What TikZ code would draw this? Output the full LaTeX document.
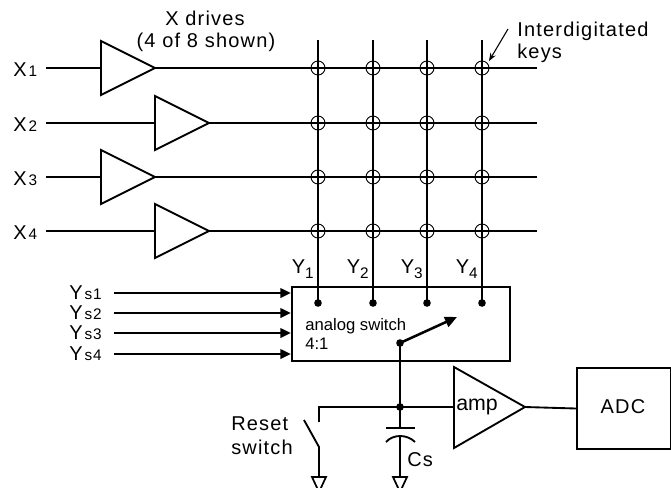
\documentclass[tikz,border=0pt]{standalone}
\usepackage{fontspec}
\setmainfont{Liberation Sans}[LetterSpace=6]
\newfontfamily\plainsans{Liberation Sans}
\usetikzlibrary{arrows.meta}
\newcommand{\mainsz}{\fontsize{15}{17}\selectfont}
\newcommand{\subsz}{\fontsize{11.5}{13}\selectfont}
\tikzset{
  wire/.style={line width=1.9pt},
  thinwire/.style={line width=1.4pt},
  key/.style={line width=0.7pt},
  lbl/.style={inner sep=0pt, font=\mainsz},
  gnd/.style={line width=1.3pt},
}
\begin{document}
\begin{tikzpicture}[x=0.75pt,y=-0.75pt]
\useasboundingbox (0,0) rectangle (671,487);

% X drive lines
\foreach \i/\y/\bx in {1/68/101, 2/123/155, 3/177/101, 4/231/155} {
  \node[lbl, anchor=base west] (xl\i) at (13,\y+8) {X\hspace{1.5pt}{\subsz\i}};
  \coordinate (xin\i) at (46,\y);
  \coordinate (bl\i) at (\bx,\y);
  \coordinate (bt\i) at (\bx+54,\y);
  \coordinate (xe\i) at (537,\y);
  \draw[wire] (xin\i) -- (bl\i);
  \draw[thinwire, line join=miter] (\bx,\y-27) -- (bt\i) -- (\bx,\y+27) -- cycle;
  \draw[wire] (bt\i) -- (xe\i);
}

\node[lbl, anchor=base] (xd) at (205,25) {X drives};
\node[lbl, anchor=base] (xd2) at (206,47) {(4 of 8 shown)};

% Y columns
\foreach \j/\x in {1/318,2/373,3/427,4/482} {
  \coordinate (ct\j) at (\x,40);
  \coordinate (cd\j) at (\x,303);
  \draw[wire] (ct\j) -- (cd\j);
  \foreach \y in {68,123,177,231} {
    \draw[key] (\x,\y) circle (7);
  }
  \fill (cd\j) circle (3.8);
  \node[lbl, anchor=base east] (yl\j) at (\x-4,273) {Y\raisebox{-4pt}{\subsz\j}};
}

% Interdigitated keys
\node[lbl, anchor=base west] (ik1) at (517,36) {Interdigitated};
\node[lbl, anchor=base west] (ik2) at (517,58) {keys};
\coordinate (ika) at (508,29);
\coordinate (ikb) at (489,61);
\draw[line width=0.8pt, -{Stealth[length=6pt,width=4.5pt]}] (ika) -- (ikb);

% analog switch box
\node[draw, line width=1.7pt, minimum width=163.5pt, minimum height=55.5pt, anchor=north west, inner sep=0pt] (sw) at (291,286) {};
\node[inner sep=0pt, anchor=base west, font=\plainsans\fontsize{12.5}{14}\selectfont] (swt1) at (305,330) {analog switch};
\node[inner sep=0pt, anchor=base west, font=\plainsans\fontsize{12.5}{14}\selectfont] (swt2) at (305,349) {4:1};
\coordinate (piv) at (400,343);
\coordinate (arw) at (457,317);
\draw[wire, -{Triangle[length=9pt,width=8pt]}] (piv) -- (arw);
\fill (piv) circle (3.8);

% Ys inputs
\foreach \k/\y in {1/293,2/313,3/333,4/354} {
  \node[lbl, anchor=base east] (ys\k) at (102,\y+6) {Y\hspace{1.5pt}{\subsz s\k}};
  \coordinate (ysa\k) at (114,\y);
  \coordinate (ysb\k) at (291,\y);
  \draw[wire, -{Triangle[length=8pt,width=7pt]}] (ysa\k) -- (ysb\k);
}

% output network
\coordinate (J) at (400,407);
\coordinate (ampin) at (454,407);
\coordinate (ampout) at (525,407);
\coordinate (rtop) at (319,422);
\draw[wire] (piv) -- (J);
\draw[thinwire] (rtop) |- (J) -- (ampin);
\fill (J) circle (3.8);

% reset switch
\coordinate (bladeA) at (304,420);
\coordinate (bladeB) at (319,447);
\coordinate (g1) at (319,477);
\draw[thinwire] (bladeA) -- (bladeB) -- (g1);
\draw[gnd, line join=miter] (312,477) -- (326,477) -- (319,492) -- cycle;
\node[lbl, anchor=base west] (rs1) at (231,430) {Reset};
\node[lbl, anchor=base west] (rs2) at (231,454) {switch};

% capacitor
\coordinate (cpt) at (400,428);
\coordinate (cpb) at (400,436);
\coordinate (g2) at (400,477);
\draw[thinwire] (J) -- (cpt);
\draw[thinwire] (386,428) -- (415,428);
\draw[thinwire] (386,442) .. controls (393,434) and (407,434) .. (415,442);
\draw[thinwire] (cpb) -- (g2);
\draw[gnd, line join=miter] (393,477) -- (407,477) -- (400,492) -- cycle;
\node[lbl, anchor=base west] (cs) at (407,466) {Cs};

% amplifier
\draw[thinwire, line join=miter] (454,367) -- (ampout) -- (454,448) -- cycle;
\node[inner sep=0pt, anchor=base west, font=\plainsans\fontsize{16}{18}\selectfont] (amp) at (456,410) {amp};

% ADC
\node[draw, line width=1.5pt, minimum width=70.5pt, minimum height=60.75pt, anchor=north west, inner sep=0pt] (adc) at (576,367) {};
\node[lbl] (adct) at (623,407) {ADC};
\draw[thinwire] (ampout) -- (adc.west);
\end{tikzpicture}
\end{document}
